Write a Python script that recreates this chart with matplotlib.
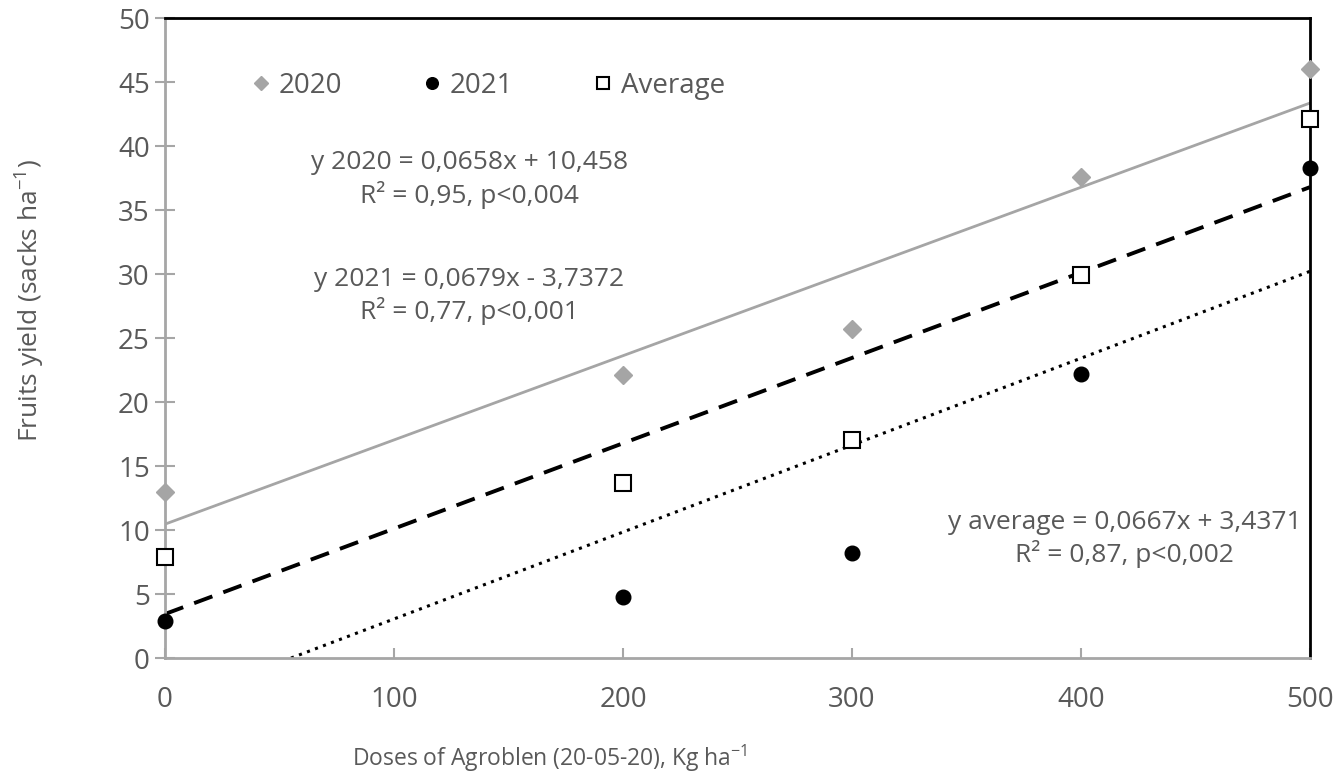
import numpy as np
import matplotlib
matplotlib.use('Agg')
import matplotlib.pyplot as plt

plt.rcParams['font.family'] = ['Open Sans', 'DejaVu Sans']
plt.rcParams['mathtext.default'] = 'regular'

# data
doses = [0, 200, 300, 400, 500]
y2020 = [13.0, 22.1, 25.7, 37.6, 46.0]
y2021 = [2.9, 4.8, 8.2, 22.2, 38.3]
y_avg = [7.9, 13.7, 17.0, 29.9, 42.1]

# trend line coefficients from the equations
fit2020 = (0.0658, 10.458)
fit2021 = (0.0679, -3.7372)
fit_avg = (0.0667, 3.4371)

txt = '#595959'
gray = '#A5A5A5'

fig = plt.figure(figsize=(13.37, 7.83), dpi=100)
ax = fig.add_axes([0.1234, 0.1596, 0.8564, 0.8174])

xs = np.array([0, 500])
ax.plot(xs, fit2020[0] * xs + fit2020[1], color=gray, lw=2)
x0 = -fit2021[1] / fit2021[0]
xd = np.array([x0, 500])
ax.plot(xd, fit2021[0] * xd + fit2021[1], color='black', lw=2.2, ls=(0, (1, 1.8)))
ax.plot(xs, fit_avg[0] * xs + fit_avg[1], color='black', lw=2.8, ls=(0, (5, 3)))

ax.plot(doses, y2020, 'D', color=gray, ms=9, label='2020', clip_on=False, zorder=5)
ax.plot(doses, y2021, 'o', color='black', ms=10.5, label='2021', clip_on=False, zorder=5)
ax.plot(doses, y_avg, 's', mfc='white', mec='black', mew=1.5, ms=11.5, label='Average',
        clip_on=False, zorder=6)

ax.set_xlim(0, 500)
ax.set_ylim(0, 50)
ax.set_xticks(range(0, 501, 100))
ax.set_yticks(range(0, 51, 5))

for s in ['left', 'bottom']:
    ax.spines[s].set_color('#A6A6A6')
    ax.spines[s].set_linewidth(2)
for s in ['top', 'right']:
    ax.spines[s].set_color('black')
    ax.spines[s].set_linewidth(2)

ax.tick_params(axis='y', direction='inout', length=14, width=1.5, color='#A6A6A6',
               labelsize=20, labelcolor=txt, pad=4)
ax.tick_params(axis='x', direction='in', length=7, width=1.5, color='#A6A6A6',
               labelsize=20, labelcolor=txt, pad=20)

ax.set_ylabel('Fruits yield (sacks ha$^{-1}$)', fontsize=19, color=txt)
ax.yaxis.set_label_coords(-0.103, 0.558)
ax.set_xlabel('Doses of Agroblen (20-05-20), Kg ha$^{-1}$', fontsize=16.5, color=txt)
ax.xaxis.set_label_coords(0.336, -0.133)

ax.text(133, 37.4, 'y 2020 = 0,0658x + 10,458\nR² = 0,95, p<0,004', ha='center', va='center',
        fontsize=19, color=txt, linespacing=1.25)
ax.text(133, 28.3, 'y 2021 = 0,0679x - 3,7372\nR² = 0,77, p<0,001', ha='center', va='center',
        fontsize=19, color=txt, linespacing=1.25)
ax.text(419, 9.3, 'y average = 0,0667x + 3,4371\nR² = 0,87, p<0,002', ha='center', va='center',
        fontsize=19, color=txt, linespacing=1.25)

leg = ax.legend(loc='upper left', bbox_to_anchor=(0.052, 0.955), ncol=3, frameon=False,
                fontsize=20, handletextpad=0.25, columnspacing=2.83, handlelength=0.8,
                markerscale=0.8)
for t in leg.get_texts():
    t.set_color(txt)

fig.savefig('out.png', dpi=100)
